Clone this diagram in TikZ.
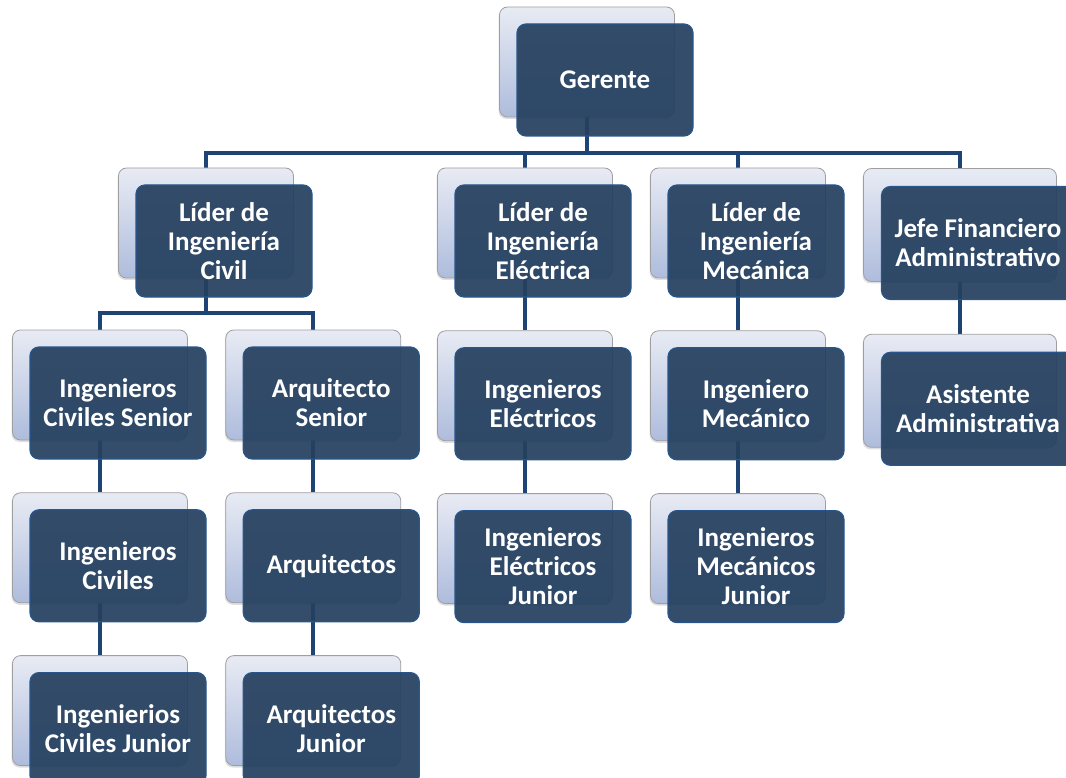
\documentclass[tikz,border=0pt]{standalone}
\usepackage{fontspec}
\setmainfont{Carlito}
\usetikzlibrary{positioning,calc,backgrounds,shadows}
\definecolor{navy}{HTML}{25405F}
\definecolor{navyedge}{HTML}{28568C}
\definecolor{linkblue}{HTML}{1D4474}
\definecolor{paletop}{HTML}{E8EBF4}
\definecolor{palebot}{HTML}{AEBCDC}
\tikzset{
  back/.style={draw=gray!75, rounded corners=8pt, minimum width=175pt, minimum height=110pt, inner sep=0pt, top color=paletop, bottom color=palebot, line width=0.8pt, drop shadow={shadow xshift=-1pt, shadow yshift=-2pt, opacity=0.25}},
  backw/.style={back, minimum width=193pt, minimum height=113pt},
  front/.style={draw=navyedge, rounded corners=9pt, minimum width=176pt, minimum height=112pt, inner sep=0pt, fill=navy, fill opacity=0.93, text opacity=1, line width=1.2pt, text=white, align=center, font=\bfseries\fontsize{27}{29}\selectfont},
  frontw/.style={front, minimum width=193pt, minimum height=113pt},
  link/.style={draw=linkblue, line width=4pt}
}

\begin{document}
\begin{tikzpicture}[x=1pt, y=-1pt, node distance=52pt and 37.5pt]
  \useasboundingbox (0,0) rectangle (1066,778);
  \clip (0,0) rectangle (1066,778);

  % top
  \node[back] (gerente-bk) at (587,62) {};
  \node[front] (gerente) at ($(gerente-bk)+(18,18)$) {Gerente};

  % leaders
  \node[back] (civil-bk) at (206,223) {};
  \node[front] (civil) at ($(civil-bk)+(18,18)$) {Líder de\\Ingeniería\\Civil};
  \node[back] (elec-bk) at (525,223) {};
  \node[front] (elec) at ($(elec-bk)+(18,18)$) {Líder de\\Ingeniería\\Eléctrica};
  \node[back] (mec-bk) at (738,223) {};
  \node[front] (mec) at ($(mec-bk)+(18,18)$) {Líder de\\Ingeniería\\Mecánica};
  \node[backw] (jefe-bk) at (960,225) {};
  \node[frontw] (jefe) at ($(jefe-bk)+(18,18)$) {Jefe Financiero\\Administrativo};

  % civil branch
  \node[back] (ics-bk) at (100,385) {};
  \node[front] (ics) at ($(ics-bk)+(18,18)$) {Ingenieros\\Civiles Senior};
  \node[back, below=of ics-bk] (ic-bk) {};
  \node[front] (ic) at ($(ic-bk)+(18,18)$) {Ingenieros\\Civiles};
  \node[back, below=of ic-bk] (icj-bk) {};
  \node[front] (icj) at ($(icj-bk)+(18,18)$) {Ingenierios\\Civiles Junior};

  \node[back, right=of ics-bk] (arqs-bk) {};
  \node[front] (arqs) at ($(arqs-bk)+(18,18)$) {Arquitecto\\Senior};
  \node[back, below=of arqs-bk] (arq-bk) {};
  \node[front] (arq) at ($(arq-bk)+(18,18)$) {Arquitectos};
  \node[back, below=of arq-bk] (arqj-bk) {};
  \node[front] (arqj) at ($(arqj-bk)+(18,18)$) {Arquitectos\\Junior};

  % electrica / mecanica
  \node[back, below=of elec-bk] (iel-bk) {};
  \node[front] (iel) at ($(iel-bk)+(18,18)$) {Ingenieros\\Eléctricos};
  \node[back, below=of iel-bk] (ielj-bk) {};
  \node[front] (ielj) at ($(ielj-bk)+(18,18)$) {Ingenieros\\Eléctricos\\Junior};
  \node[back, below=of mec-bk] (imec-bk) {};
  \node[front] (imec) at ($(imec-bk)+(18,18)$) {Ingeniero\\Mecánico};
  \node[back, below=of imec-bk] (imecj-bk) {};
  \node[front] (imecj) at ($(imecj-bk)+(18,18)$) {Ingenieros\\Mecánicos\\Junior};

  % administracion
  \node[backw, below=of jefe-bk] (asis-bk) {};
  \node[frontw] (asis) at ($(asis-bk)+(18,18)$) {Asistente\\Administrativa};

  \begin{scope}[on background layer]
    \draw[link] (gerente-bk.south) -- ++(0,36) coordinate (bus);
    \draw[link] (civil-bk.north) |- (bus) -| (jefe-bk.north);
    \draw[link] (elec-bk.north) -- (elec-bk.north |- bus);
    \draw[link] (mec-bk.north) -- (mec-bk.north |- bus);
    \draw[link] (civil-bk.south) -- ++(0,35) coordinate (civbus);
    \draw[link] (ics-bk.north) |- (civbus) -| (arqs-bk.north);
    \draw[link] (ics-bk) -- (ic-bk);
    \draw[link] (ic-bk) -- (icj-bk);
    \draw[link] (arqs-bk) -- (arq-bk);
    \draw[link] (arq-bk) -- (arqj-bk);
    \draw[link] (elec-bk) -- (iel-bk);
    \draw[link] (iel-bk) -- (ielj-bk);
    \draw[link] (mec-bk) -- (imec-bk);
    \draw[link] (imec-bk) -- (imecj-bk);
    \draw[link] (jefe-bk) -- (asis-bk);
  \end{scope}
\end{tikzpicture}
\end{document}
